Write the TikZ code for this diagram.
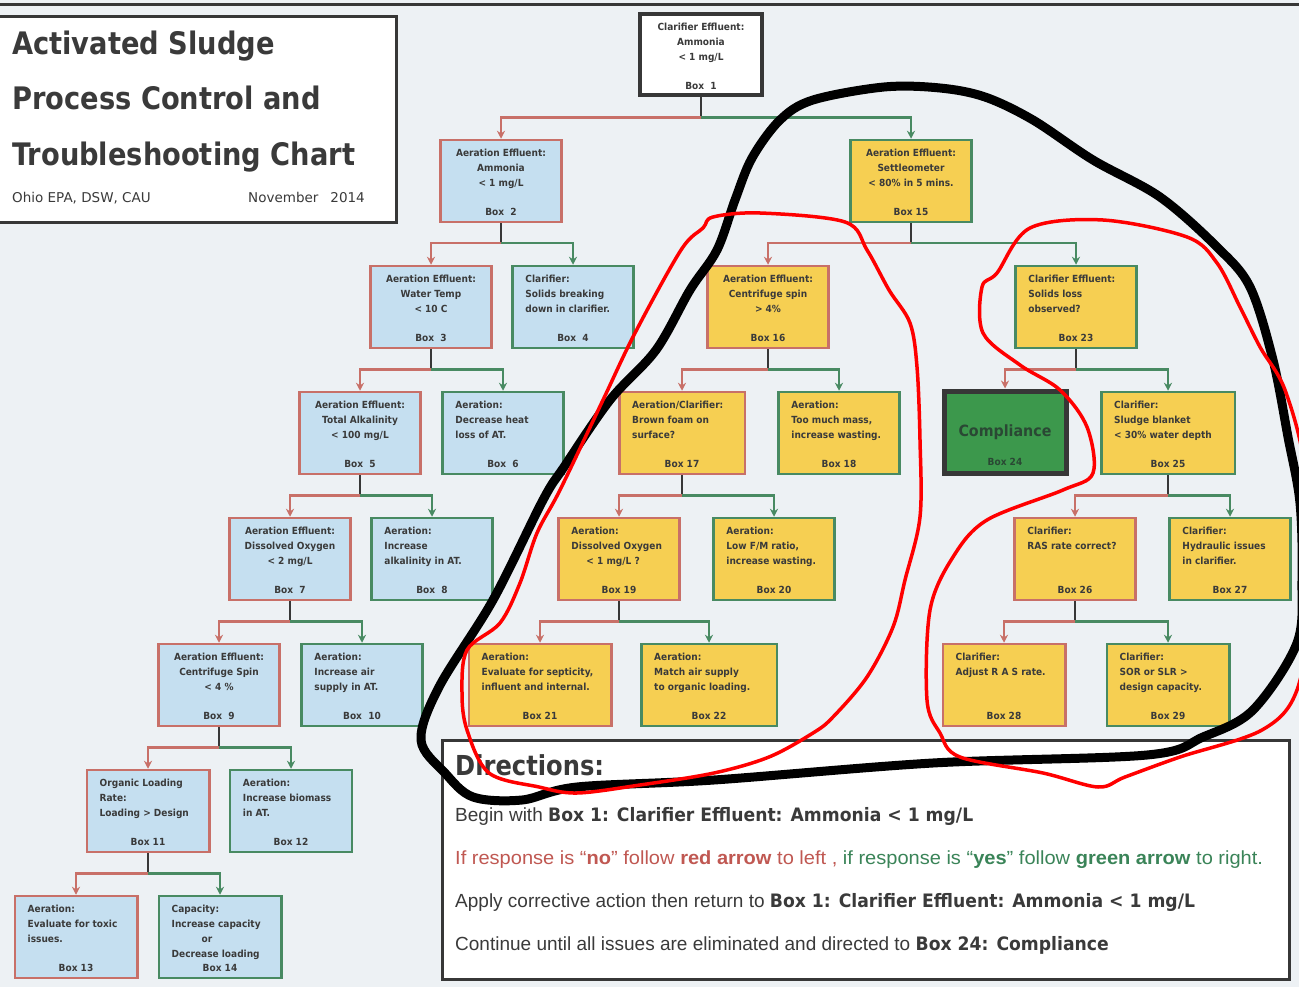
\documentclass[tikz,border=0pt]{standalone}
\usepackage{fontspec}
\setmainfont{DejaVu Sans}
\newfontfamily\cardfont[FakeStretch=0.92]{DejaVu Sans}
\newfontfamily\headfont[FakeStretch=0.88]{DejaVu Sans}
\newfontfamily\notefont{Liberation Sans}
\newfontfamily\notewide[FakeStretch=1.055]{Liberation Sans}
\newfontfamily\notebold[FakeStretch=0.93]{DejaVu Sans}
\usetikzlibrary{arrows.meta}

\definecolor{bgTone}{RGB}{237,241,244}
\definecolor{noRed}{RGB}{200,112,104}
\definecolor{yesGreen}{RGB}{72,138,98}
\definecolor{aerBlue}{RGB}{197,223,240}
\definecolor{clarYellow}{RGB}{246,207,82}
\definecolor{passGreen}{RGB}{60,152,76}
\definecolor{passInk}{RGB}{42,72,52}
\definecolor{inkGray}{RGB}{58,58,58}
\definecolor{frameGray}{RGB}{55,55,55}
\definecolor{dirRed}{RGB}{192,88,82}
\definecolor{dirGreen}{RGB}{58,132,88}

\tikzset{
  card/.style={draw, line width=2.5pt, minimum width=121pt, minimum height=82pt, inner sep=0pt},
  nobox/.style={card, draw=noRed},
  yesbox/.style={card, draw=yesGreen},
  aer/.style={fill=aerBlue},
  clar/.style={fill=clarYellow},
  boxtext/.style={font=\cardfont\bfseries\fontsize{9.8}{15}\selectfont, text=inkGray, inner sep=0pt},
  midtext/.style={boxtext, anchor=north, align=center, yshift=-10.5pt},
  lefttext/.style={boxtext, anchor=north west, align=left, xshift=14pt, yshift=-10.5pt},
  numtag/.style={boxtext, anchor=base, yshift=7.5pt},
  stem/.style={draw=frameGray, line width=2.5pt},
  noline/.style={draw=noRed, line width=2.5pt, -{Stealth[length=8pt,width=8pt]}},
  yesline/.style={draw=yesGreen, line width=2.5pt, -{Stealth[length=8pt,width=8pt]}},
  frame/.style={draw=frameGray, line width=3pt, fill=white, inner sep=0pt},
  headline/.style={font=\headfont\bfseries\fontsize{31}{31}\selectfont, text=inkGray, inner sep=0pt, anchor=base west},
  subline/.style={font=\fontsize{13.5}{16}\selectfont, text=inkGray, inner sep=0pt},
  noteline/.style={font=\notefont\fontsize{19}{22}\selectfont, text=inkGray, inner sep=0pt, anchor=base west},
  blackpen/.style={draw=black, line width=9pt, line join=round, line cap=round},
  redpen/.style={draw=red, line width=3.5pt, line join=round, line cap=round}
}
\newcommand{\boldpart}[1]{{\notebold\bfseries\fontsize{18.5}{22}\selectfont #1}}

\begin{document}
\begin{tikzpicture}[x=1pt,y=-1pt]
\useasboundingbox[fill=bgTone] (0,0) rectangle (1299,987);
\clip (0,0) rectangle (1299,987);
\draw[frameGray, line width=3pt] (0,5) -- (1299,5);

% title block
\node[frame, minimum width=398pt, minimum height=206pt] (titlebox) at (197.5,119.5) {};
\node[headline] (title1) at (12,55) {Activated Sludge};
\node[headline] (title2) at (12,110) {Process Control and};
\node[headline] (title3) at (12,166) {Troubleshooting Chart};
\node[subline, anchor=base west] (issuer) at (12,203) {Ohio EPA, DSW, CAU};
\node[subline, anchor=base east] (issued) at (365,203) {November\hspace{12pt}2014};

% start
\node[card, draw=frameGray, line width=4pt, fill=white, minimum width=122pt, minimum height=81pt, label={[midtext]north:{Clarifier Effluent:\\Ammonia\\< 1 mg/L}}, label={[numtag]south:{Box\ \ 1}}] (b1) at (701,55) {};

% left branch (aeration)
\node[nobox, aer, label={[midtext]north:{Aeration Effluent:\\Ammonia\\< 1 mg/L}}, label={[numtag]south:{Box\ \ 2}}] (b2) at (501,181) {};
\node[nobox, aer, label={[midtext]north:{Aeration Effluent:\\Water Temp\\< 10 C}}, label={[numtag]south:{Box\ \ 3}}] (b3) at (431,307) {};
\node[yesbox, aer, label={[lefttext]north west:{Clarifier:\\Solids breaking\\down in clarifier.}}, label={[numtag]south:{Box\ \ 4}}] (b4) at (573,307) {};
\node[nobox, aer, label={[midtext]north:{Aeration Effluent:\\Total Alkalinity\\< 100 mg/L}}, label={[numtag]south:{Box\ \ 5}}] (b5) at (360,433) {};
\node[yesbox, aer, label={[lefttext]north west:{Aeration:\\Decrease heat\\loss of AT.}}, label={[numtag]south:{Box\ \ 6}}] (b6) at (503,433) {};
\node[nobox, aer, label={[midtext]north:{Aeration Effluent:\\Dissolved Oxygen\\< 2 mg/L}}, label={[numtag]south:{Box\ \ 7}}] (b7) at (290,559) {};
\node[yesbox, aer, label={[lefttext]north west:{Aeration:\\Increase\\alkalinity in AT.}}, label={[numtag]south:{Box\ \ 8}}] (b8) at (432,559) {};
\node[nobox, aer, label={[midtext]north:{Aeration Effluent:\\Centrifuge Spin\\< 4 \%}}, label={[numtag]south:{Box\ \ 9}}] (b9) at (219,685) {};
\node[yesbox, aer, label={[lefttext]north west:{Aeration:\\Increase air\\supply in AT.}}, label={[numtag]south:{Box\ \ 10}}] (b10) at (362,685) {};
\node[nobox, aer, minimum width=122.5pt, label={[lefttext]north west:{Organic Loading\\Rate:\\Loading > Design}}, label={[numtag]south:{Box 11}}] (b11) at (148,811) {};
\node[yesbox, aer, minimum width=122pt, label={[lefttext]north west:{Aeration:\\Increase biomass\\in AT.}}, label={[numtag]south:{Box 12}}] (b12) at (291,811) {};
\node[nobox, aer, minimum width=122.5pt, label={[lefttext]north west:{Aeration:\\Evaluate for toxic\\issues.}}, label={[numtag]south:{Box 13}}] (b13) at (76,937) {};
\node[yesbox, aer, minimum width=122.5pt, label={[lefttext]north west:{Capacity:\\Increase capacity\\\hspace*{30pt}or\\Decrease loading}}, label={[numtag]south:{Box 14}}] (b14) at (220,937) {};

% right branch (clarifier)
\node[yesbox, clar, label={[midtext]north:{Aeration Effluent:\\Settleometer\\< 80\% in 5 mins.}}, label={[numtag]south:{Box 15}}] (b15) at (911,181) {};
\node[nobox, clar, label={[midtext]north:{Aeration Effluent:\\Centrifuge spin\\> 4\%}}, label={[numtag]south:{Box 16}}] (b16) at (768,307) {};
\node[yesbox, clar, label={[lefttext]north west:{Clarifier Effluent:\\Solids loss\\observed?}}, label={[numtag]south:{Box 23}}] (b23) at (1076,307) {};
\node[nobox, clar, minimum width=125.5pt, label={[lefttext]north west:{Aeration/Clarifier:\\Brown foam on\\surface?}}, label={[numtag]south:{Box 17}}] (b17) at (682,433) {};
\node[yesbox, clar, label={[lefttext]north west:{Aeration:\\Too much mass,\\increase wasting.}}, label={[numtag]south:{Box 18}}] (b18) at (839,433) {};
\node[card, draw=frameGray, line width=5pt, fill=passGreen, minimum width=122pt, minimum height=82pt, font=\cardfont\bfseries\fontsize{15.5}{18}\selectfont, text=passInk, label={[numtag, text=passInk, yshift=3pt]south:{Box 24}}] (b24) at (1005,432) {Compliance};
\node[yesbox, clar, minimum width=133.5pt, label={[lefttext]north west:{Clarifier:\\Sludge blanket\\< 30\% water depth}}, label={[numtag]south:{Box 25}}] (b25) at (1168,433) {};
\node[nobox, clar, label={[lefttext]north west:{Aeration:\\Dissolved Oxygen\\\hspace*{15pt}< 1 mg/L ?}}, label={[numtag]south:{Box 19}}] (b19) at (619,559) {};
\node[yesbox, clar, label={[lefttext]north west:{Aeration:\\Low F/M ratio,\\increase wasting.}}, label={[numtag]south:{Box 20}}] (b20) at (774,559) {};
\node[nobox, clar, label={[lefttext]north west:{Clarifier:\\RAS rate correct?}}, label={[numtag]south:{Box 26}}] (b26) at (1075,559) {};
\node[yesbox, clar, label={[lefttext]north west:{Clarifier:\\Hydraulic issues\\in clarifier.}}, label={[numtag]south:{Box 27}}] (b27) at (1230,559) {};
\node[nobox, clar, minimum width=142.5pt, label={[lefttext]north west:{Aeration:\\Evaluate for septicity,\\influent and internal.}}, label={[numtag]south:{Box 21}}] (b21) at (540,685) {};
\node[yesbox, clar, minimum width=135.5pt, label={[lefttext]north west:{Aeration:\\Match air supply\\to organic loading.}}, label={[numtag]south:{Box 22}}] (b22) at (709,685) {};
\node[nobox, clar, minimum width=122.5pt, label={[lefttext]north west:{Clarifier:\\Adjust R A S rate.}}, label={[numtag]south:{Box 28}}] (b28) at (1004,685) {};
\node[yesbox, clar, minimum width=122.5pt, label={[lefttext]north west:{Clarifier:\\SOR or SLR >\\design capacity.}}, label={[numtag]south:{Box 29}}] (b29) at (1168,685) {};

% forks: red = no (left), green = yes (right)
\draw[stem] (b1.south) -- ++(0,20) coordinate (f1); \draw[noline] (f1) -| (b2.north); \draw[yesline] (f1) -| (b15.north);
\draw[stem] (b2.south) -- ++(0,20) coordinate (f2); \draw[noline] (f2) -| (b3.north); \draw[yesline] (f2) -| (b4.north);
\draw[stem] (b3.south) -- ++(0,20) coordinate (f3); \draw[noline] (f3) -| (b5.north); \draw[yesline] (f3) -| (b6.north);
\draw[stem] (b5.south) -- ++(0,20) coordinate (f5); \draw[noline] (f5) -| (b7.north); \draw[yesline] (f5) -| (b8.north);
\draw[stem] (b7.south) -- ++(0,20) coordinate (f7); \draw[noline] (f7) -| (b9.north); \draw[yesline] (f7) -| (b10.north);
\draw[stem] (b9.south) -- ++(0,20) coordinate (f9); \draw[noline] (f9) -| (b11.north); \draw[yesline] (f9) -| (b12.north);
\draw[stem] (b11.south) -- ++(0,20) coordinate (f11); \draw[noline] (f11) -| (b13.north); \draw[yesline] (f11) -| (b14.north);
\draw[stem] (b15.south) -- ++(0,20) coordinate (f15); \draw[noline] (f15) -| (b16.north); \draw[yesline] (f15) -| (b23.north);
\draw[stem] (b16.south) -- ++(0,20) coordinate (f16); \draw[noline] (f16) -| (b17.north); \draw[yesline] (f16) -| (b18.north);
\draw[stem] (b17.south) -- ++(0,20) coordinate (f17); \draw[noline] (f17) -| (b19.north); \draw[yesline] (f17) -| (b20.north);
\draw[stem] (b19.south) -- ++(0,20) coordinate (f19); \draw[noline] (f19) -| (b21.north); \draw[yesline] (f19) -| (b22.north);
\draw[stem] (b23.south) -- ++(0,20) coordinate (f23); \draw[noline] (f23) -| (b24.north); \draw[yesline] (f23) -| (b25.north);
\draw[stem] (b25.south) -- ++(0,20) coordinate (f25); \draw[noline] (f25) -| (b26.north); \draw[yesline] (f25) -| (b27.north);
\draw[stem] (b26.south) -- ++(0,20) coordinate (f26); \draw[noline] (f26) -| (b28.north); \draw[yesline] (f26) -| (b29.north);

% directions
\node[frame, line width=2.5pt, minimum width=847pt, minimum height=239pt] (dirbox) at (866,860) {};
\node[headline, font=\headfont\bfseries\fontsize{27.5}{30}\selectfont] (dirhead) at (455,775) {Directions:};
\node[noteline] (dir1) at (455,821) {Begin with \boldpart{Box 1: Clarifier Effluent: Ammonia < 1 mg/L}};
\node[noteline, font=\notewide\fontsize{19}{22}\selectfont] (dir2) at (455,864) {{\color{dirRed}If response is “\textbf{no}” follow \textbf{red arrow} to left , }{\color{dirGreen}if response is “\textbf{yes}” follow \textbf{green arrow} to right.}};
\node[noteline] (dir3) at (455,907) {Apply corrective action then return to \boldpart{Box 1: Clarifier Effluent: Ammonia < 1 mg/L}};
\node[noteline] (dir4) at (455,950) {Continue until all issues are eliminated and directed to \boldpart{Box 24: Compliance}};

% hand-drawn marks
\draw[blackpen] plot[smooth cycle, tension=0.55] coordinates {(717,250) (735,200) (752,158) (780,120) (813,100) (884,87) (940,88) (985,97) (1033,120) (1093,160) (1160,197) (1217,247) (1250,287) (1273,360) (1288,437) (1300,503) (1302,580) (1297,643) (1253,710) (1203,737) (1147,755) (933,763) (714,780) (577,787) (522,800) (473,797) (445,773) (421,740) (439,687) (493,600) (543,500) (564,467) (610,400) (656,350) (690,290)};
\draw[redpen] plot[smooth cycle, tension=0.55] coordinates {(713,217) (760,213) (845,222) (867,250) (889,290) (910,323) (917,367) (920,440) (920,517) (905,580) (893,627) (867,677) (833,717) (813,733) (769,757) (714,773) (640,785) (577,793) (539,787) (489,773) (467,730) (462,693) (467,650) (500,623) (520,583) (537,533) (560,490) (603,400) (635,333) (681,250) (703,228)};
\draw[redpen] plot[smooth cycle, tension=0.55] coordinates {(1030,228) (1103,220) (1187,237) (1217,263) (1240,307) (1260,347) (1285,390) (1305,470) (1310,600) (1297,690) (1262,730) (1180,757) (1125,777) (1098,787) (1043,773) (960,757) (940,733) (927,700) (930,610) (953,557) (987,520) (1063,490) (1093,473) (1087,427) (1060,390) (1020,365) (983,333) (982,287) (997,273)};
\end{tikzpicture}
\end{document}
